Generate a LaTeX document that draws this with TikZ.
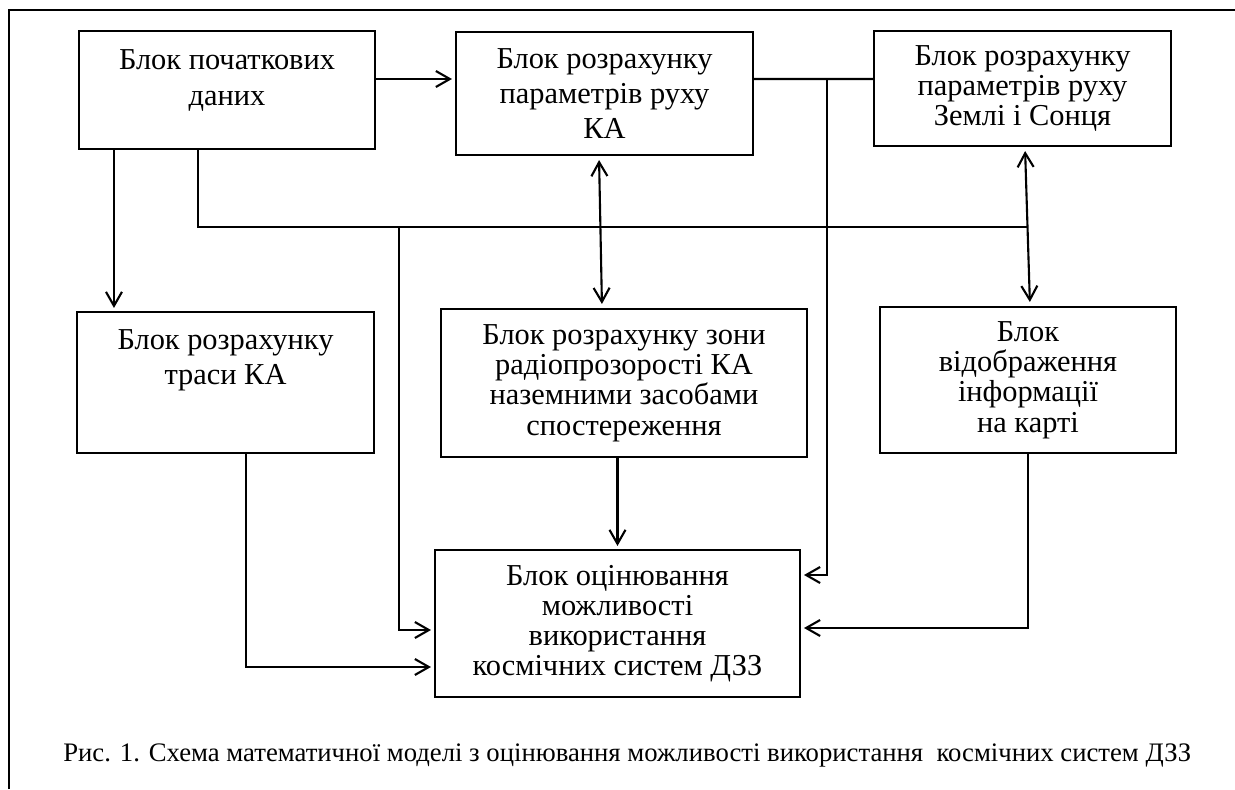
\documentclass[tikz,border=0pt]{standalone}
\usepackage{fontspec}
\setmainfont{Liberation Serif}
\usetikzlibrary{arrows.meta}

\begin{document}
\begin{tikzpicture}[x=0.02cm,y=-0.02cm,
  blk/.style={draw, line width=1.2pt, inner sep=0pt, align=center, font=\fontsize{17.3}{20}\selectfont},
  tight/.style={font=\fontsize{17.3}{17.2}\selectfont},
  ln/.style={line width=1.2pt},
  arr/.style={ln, -{Straight Barb[length=0.28cm,width=0.32cm]}, shorten >=0.06cm},
  dbl/.style={ln, {Straight Barb[length=0.28cm,width=0.32cm]}-{Straight Barb[length=0.28cm,width=0.32cm]}, shorten >=0.08cm, shorten <=0.08cm}]
\useasboundingbox (0,0) rectangle (1235,789);
\draw[line width=0.8pt] (9,789) -- (9,10) -- (1235,10);

% blocks
\node[blk, minimum width=5.92cm, minimum height=2.36cm] (init) at (227,90) {};
\node[blk, draw=none] (init-t) at (227,80.5) {Блок початкових\\даних};
\node[blk, minimum width=5.94cm, minimum height=2.46cm] (motion) at (604.5,93.5) {Блок розрахунку\\параметрів руху\\КА};
\node[blk, tight, minimum width=5.94cm, minimum height=2.3cm] (earth) at (1022.5,88.5) {Блок розрахунку\\параметрів руху\\Землі і Сонця};
\node[blk, minimum width=5.94cm, minimum height=2.82cm] (trace) at (225.5,382.5) {};
\node[blk, draw=none] (trace-t) at (225.5,360) {Блок розрахунку\\траси КА};
\node[blk, tight, minimum width=7.32cm, minimum height=2.96cm] (zone) at (624,383) {Блок розрахунку зони\\радіопрозорості КА\\наземними засобами\\спостереження};
\node[blk, tight, minimum width=5.92cm, minimum height=2.92cm] (map) at (1028,380) {Блок\\відображення\\інформації\\на карті};
\node[blk, tight, minimum width=7.3cm, minimum height=2.94cm] (eval) at (617.5,623.5) {Блок оцінювання\\можливості\\використання\\космічних систем ДЗЗ};

% links
\coordinate (tap) at (827,79);
\coordinate (bus) at (1028,227);
\coordinate (drop) at (399,227);
\draw[arr] ([yshift=0.22cm]init.east) -- ([yshift=0.22cm]init.east -| motion.west);
\draw[ln] ([yshift=0.29cm]motion.east) -- (tap) -- (earth.west |- tap);
\draw[arr] (tap) |- ([yshift=0.97cm]eval.east);
\draw[arr] ([xshift=0.72cm]init.south west) -- ([xshift=0.72cm]init.south west |- trace.north);
\draw[ln] ([xshift=-0.58cm]init.south) |- (bus);
\draw[arr] (drop) |- ([yshift=-0.13cm]eval.west);
\draw[dbl] ([xshift=-0.11cm]motion.south) -- ([xshift=-0.44cm]zone.north);
\draw[dbl] ([xshift=0.05cm]earth.south) -- ([xshift=0.04cm]map.north);
\draw[arr] (eval.north |- zone.south) -- (eval.north);
\draw[arr] ([xshift=0.41cm]trace.south) |- ([yshift=-0.87cm]eval.west);
\draw[arr] (map.south) |- ([yshift=-0.09cm]eval.east);

\node[anchor=west, inner sep=0pt, font=\fontsize{15.2}{18}\selectfont] (cap) at (63,755) {Рис. 1. Схема математичної моделі з оцінювання можливості використання~ космічних систем ДЗЗ};
\end{tikzpicture}
\end{document}
